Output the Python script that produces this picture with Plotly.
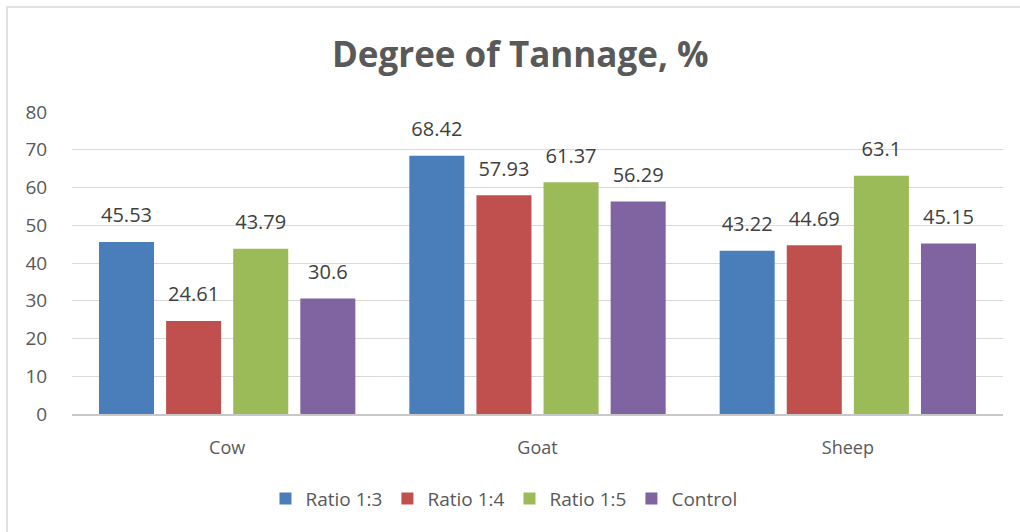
import plotly.graph_objects as go

categories = ["Cow", "Goat", "Sheep"]
series_names = ["Ratio 1:3", "Ratio 1:4", "Ratio 1:5", "Control"]
ratio_1_3 = [45.53, 68.42, 43.22]
ratio_1_4 = [24.61, 57.93, 44.69]
ratio_1_5 = [43.79, 61.37, 63.1]
control = [30.6, 56.29, 45.15]
y_ticks = [0, 10, 20, 30, 40, 50, 60, 70, 80]

values = [ratio_1_3, ratio_1_4, ratio_1_5, control]
colors = ["#4a7ebb", "#c0504d", "#9bbb59", "#8064a2"]

FONT = "Open Sans"
fig = go.Figure()
for name, vals, col in zip(series_names, values, colors):
    fig.add_trace(go.Bar(
        x=categories, y=vals, name=name, offsetgroup=name,
        marker=dict(color=col, line=dict(width=0)),
    ))
for name, vals in zip(series_names, values):
    fig.add_trace(go.Scatter(
        x=categories, y=vals, offsetgroup=name, mode="markers+text",
        marker=dict(size=22, opacity=0), showlegend=False, hoverinfo="skip",
        text=[str(v) for v in vals], textposition="top center",
        textfont=dict(family=FONT, size=20, color="#404040"),
        cliponaxis=False,
    ))

fig.update_layout(
    width=1020, height=532,
    margin=dict(l=72, r=17, t=112, b=118),
    paper_bgcolor="white", plot_bgcolor="white",
    barmode="group", bargap=0.135, bargroupgap=0.18,
    scattermode="group", scattergap=0.135,
    title=dict(text="<b>Degree of Tannage, %</b>", x=0.51, xanchor="center",
               y=0.897, yanchor="middle",
               font=dict(family=FONT, size=35, color="#595959")),
    font=dict(family=FONT, color="#595959"),
    legend=dict(orientation="h", x=0.464, xanchor="center", y=-0.28, yanchor="middle",
                font=dict(family=FONT, size=19, color="#595959"),
                itemwidth=30, traceorder="normal"),
)
fig.update_yaxes(range=[0, 80], tickvals=y_ticks, showgrid=True, gridcolor="#d9d9d9",
                 gridwidth=1.3, zeroline=False, showline=False,
                 tickfont=dict(family=FONT, size=19, color="#595959"),
                 ticks="outside", ticklen=20, tickcolor="rgba(0,0,0,0)")
fig.update_xaxes(showline=True, linecolor="#c8c8c8", linewidth=1.5,
                 ticks="outside", ticklen=17, tickcolor="rgba(0,0,0,0)",
                 tickfont=dict(family=FONT, size=18, color="#595959"))
fig.add_shape(type="rect", xref="paper", yref="paper",
              x0=(7 - 72) / 931, x1=1.2, y0=-0.6, y1=1 + (112 - 7) / 302,
              line=dict(color="#d9d9d9", width=1.5), layer="below")
fig.write_html("out.html", config={"displayModeBar": False},
               post_script="document.body.style.margin='0';")
